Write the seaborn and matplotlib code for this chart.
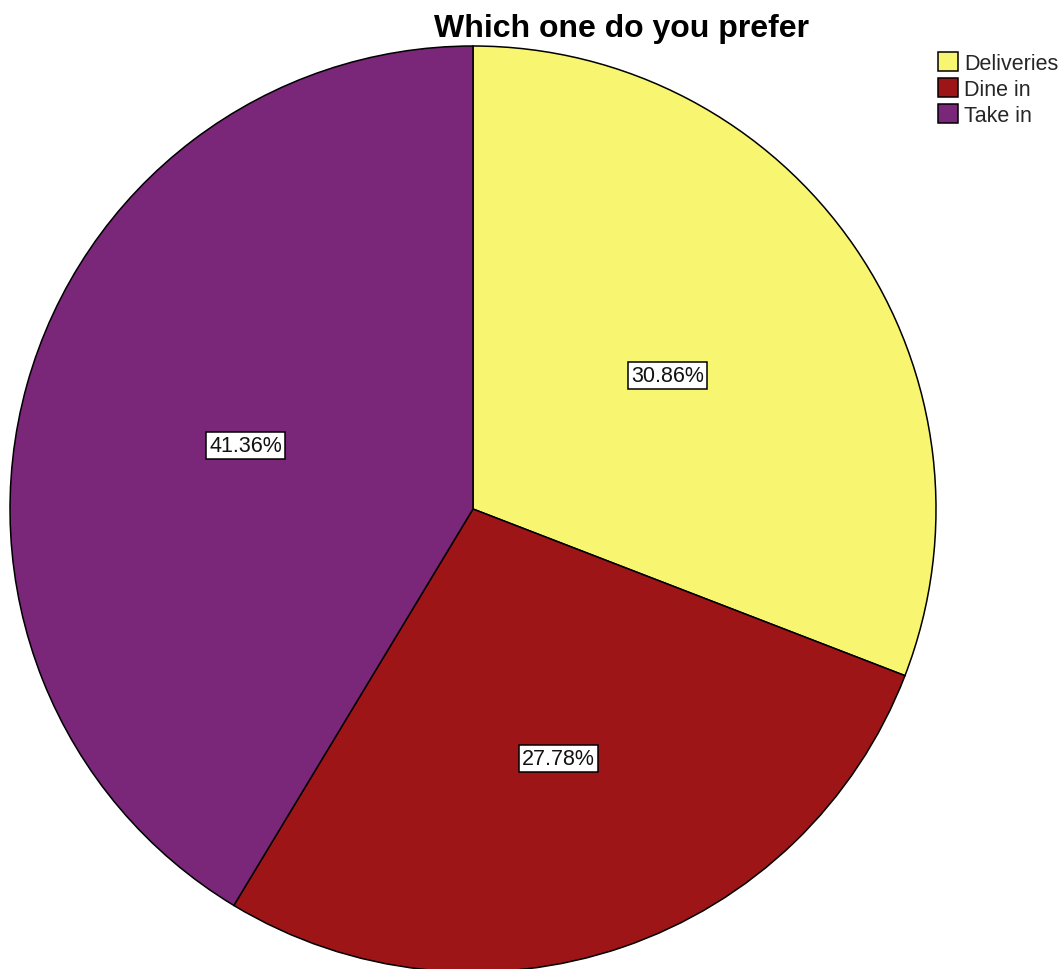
import matplotlib
matplotlib.use("Agg")
import matplotlib.pyplot as plt
import numpy as np
import seaborn as sns

# Survey answers: share of respondents per option (percent)
categories = ["Deliveries", "Dine in", "Take in"]
shares = [30.86, 27.78, 41.36]
slice_colors = ["#F8F570", "#9E1518", "#7A2679"]
label_radius = [0.51, 0.57, 0.51]

sns.set_theme(style="white")
plt.rcParams["font.family"] = ["Liberation Sans", "DejaVu Sans"]

W, H = 1063, 970
fig = plt.figure(figsize=(W / 100, H / 100), dpi=100)
fig.patch.set_facecolor("white")

cx, cy, r = 473, 510, 463
ax = fig.add_axes([(cx - r) / W, (H - cy - r) / H, 2 * r / W, 2 * r / H])

wedges, _ = ax.pie(
    shares,
    colors=sns.color_palette(slice_colors),
    startangle=90,
    counterclock=False,
    wedgeprops=dict(edgecolor="black", linewidth=1.1),
)
ax.set_xlim(-1, 1)
ax.set_ylim(-1, 1)
ax.set_aspect("equal")
ax.axis("off")

# Percentage labels in white boxes at each slice's mid angle
total = sum(shares)
start = 90.0
for val, rad in zip(shares, label_radius):
    sweep = val / total * 360
    mid = np.deg2rad(start - sweep / 2)
    start -= sweep
    ax.text(rad * np.cos(mid), rad * np.sin(mid), f"{val:.2f}%",
            ha="center", va="center", fontsize=15.5, color="#111111",
            bbox=dict(boxstyle="square,pad=0.15", facecolor="white",
                      edgecolor="black", linewidth=1.1))

fig.text(622 / W, 1 - 29 / H, "Which one do you prefer", ha="center",
         va="center", fontsize=23, fontweight="bold", color="black")

fig.legend(wedges, categories, loc="upper left",
           bbox_to_anchor=(938 / W, 1 - 53 / H), frameon=False,
           fontsize=15.5, handlelength=0.95, handleheight=0.95,
           handletextpad=0.25, labelspacing=0.2, borderpad=0,
           borderaxespad=0)

fig.savefig("out.png", dpi=100)
